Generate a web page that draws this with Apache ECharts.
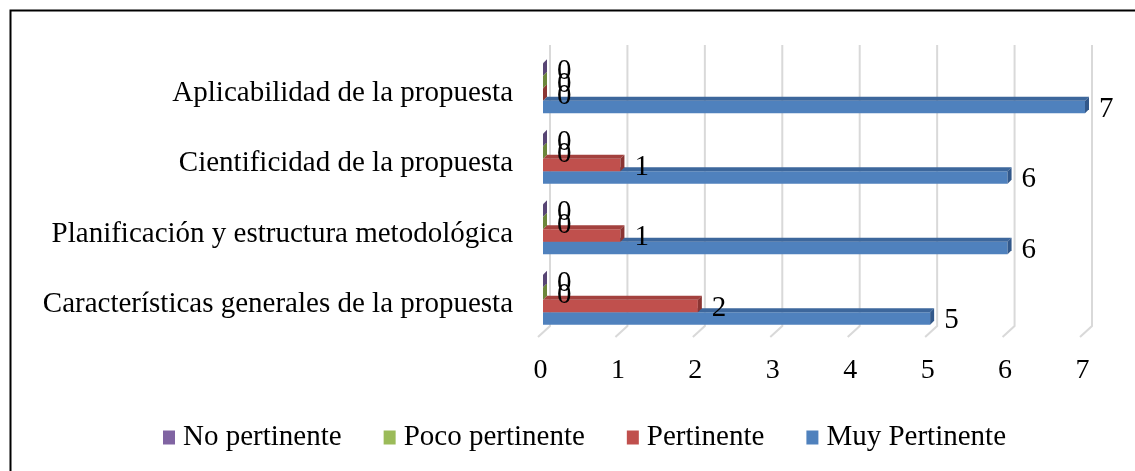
<!DOCTYPE html>
<html><head><meta charset="utf-8">
<script src="https://cdn.jsdelivr.net/npm/echarts@6/dist/echarts.min.js"></script>
<style>html,body{margin:0;padding:0;background:#fff}#c{width:1135px;height:471px}</style>
</head><body><div id="c"></div>
<script>
const categories = ['Características generales de la propuesta','Planificación y estructura metodológica','Cientificidad de la propuesta','Aplicabilidad de la propuesta'];
const seriesNames = ['No pertinente','Poco pertinente','Pertinente','Muy Pertinente'];
const noPertinente = [0,0,0,0];
const pocoPertinente = [0,0,0,0];
const pertinente = [2,1,1,0];
const muyPertinente = [5,6,6,7];
const xTicks = [0,1,2,3,4,5,6,7];

const seriesValues = [noPertinente, pocoPertinente, pertinente, muyPertinente];
const colors = ['#8064A2','#9BBB59','#C0504D','#4F81BD'];
const topColors = ['#6A5288','#819D47','#A3413E','#3D679C'];
const sideColors = ['#584574','#6C863B','#8A3533','#32588A'];
const FONT = '"Liberation Serif", "Times New Roman", serif';

function makeRender(k){
  return function(params, api){
    const v = api.value(0), c = api.value(1);
    const p0 = api.coord([0, c]), p1 = api.coord([v, c]);
    const band = api.size([0, 1])[1];
    const h = band * 0.178, d = 4;
    const y0 = p0[1] - 2*h + k*h, y1 = y0 + h;
    const x0 = p0[0], x1 = p1[0];
    return {
      type: 'group',
      children: [
        {type:'rect', shape:{x:x0, y:y0, width:x1-x0, height:h}, style:{fill:colors[k]}},
        {type:'polygon', shape:{points:[[x0,y0],[x0+d,y0-d],[x1+d,y0-d],[x1,y0]]}, style:{fill:topColors[k]}},
        {type:'polygon', shape:{points:[[x1,y0],[x1+d,y0-d],[x1+d,y1-d],[x1,y1]]}, style:{fill:sideColors[k]}},
        {type:'text', x:x1+d+10, y:(y0+y1)/2+2, z2:10, style:{text:String(v), font:'29px ' + FONT, fill:'#000', align:'left', verticalAlign:'middle'}}
      ]
    };
  };
}

const barSeries = seriesNames.map((name, k) => ({
  name: name,
  type: 'custom',
  renderItem: makeRender(k),
  encode: {x: 0, y: 1},
  itemStyle: {color: colors[k]},
  z: 10 - k,
  data: seriesValues[k].map((v, j) => [v, j])
}));

const gridSeries = {
  name: 'grid',
  type: 'custom',
  silent: true,
  z: 1,
  encode: {x: 0, y: 1},
  renderItem: function(params, api){
    const v = api.value(0);
    const cs = params.coordSys;
    const x = api.coord([v, 0])[0];
    const top = cs.y, bottom = cs.y + cs.height;
    return {type:'polyline', shape:{points:[[x+7, top-8],[x+7, bottom-9],[x-5, bottom+2]]}, style:{stroke:'#D9D9D9', lineWidth:2, fill:null}};
  },
  data: xTicks.map(v => [v, 0])
};

const chart = echarts.init(document.getElementById('c'), null, {renderer:'canvas'});
chart.setOption({
  animation: false,
  backgroundColor: '#fff',
  textStyle: {fontFamily: FONT},
  graphic: [{type:'rect', left:8, top:8, shape:{width:1200, height:600}, style:{fill:null, stroke:'#000', lineWidth:2}}],
  grid: {left: 543, right: 50, top: 53, height: 282, containLabel: false},
  xAxis: {
    type: 'value', min: 0, max: 7, interval: 1,
    axisLine: {show:false}, axisTick: {show:false}, splitLine: {show:false},
    axisLabel: {color:'#000', fontSize:28, fontFamily:FONT, margin:22, padding:[0,5,0,0]}
  },
  yAxis: {
    type: 'category', data: categories,
    axisLine: {show:false}, axisTick: {show:false}, splitLine: {show:false},
    axisLabel: {color:'#000', fontSize:29, fontFamily:FONT, margin:30, verticalAlign:'top', lineHeight:10}
  },
  legend: {
    data: seriesNames,
    top: 418, left: 158,
    icon: 'rect', itemWidth: 12, itemHeight: 14, itemGap: 42,
    textStyle: {color:'#000', fontSize:29, fontFamily:FONT, padding:[0,0,0,3]}
  },
  series: [gridSeries].concat(barSeries)
});
</script>
</body></html>
